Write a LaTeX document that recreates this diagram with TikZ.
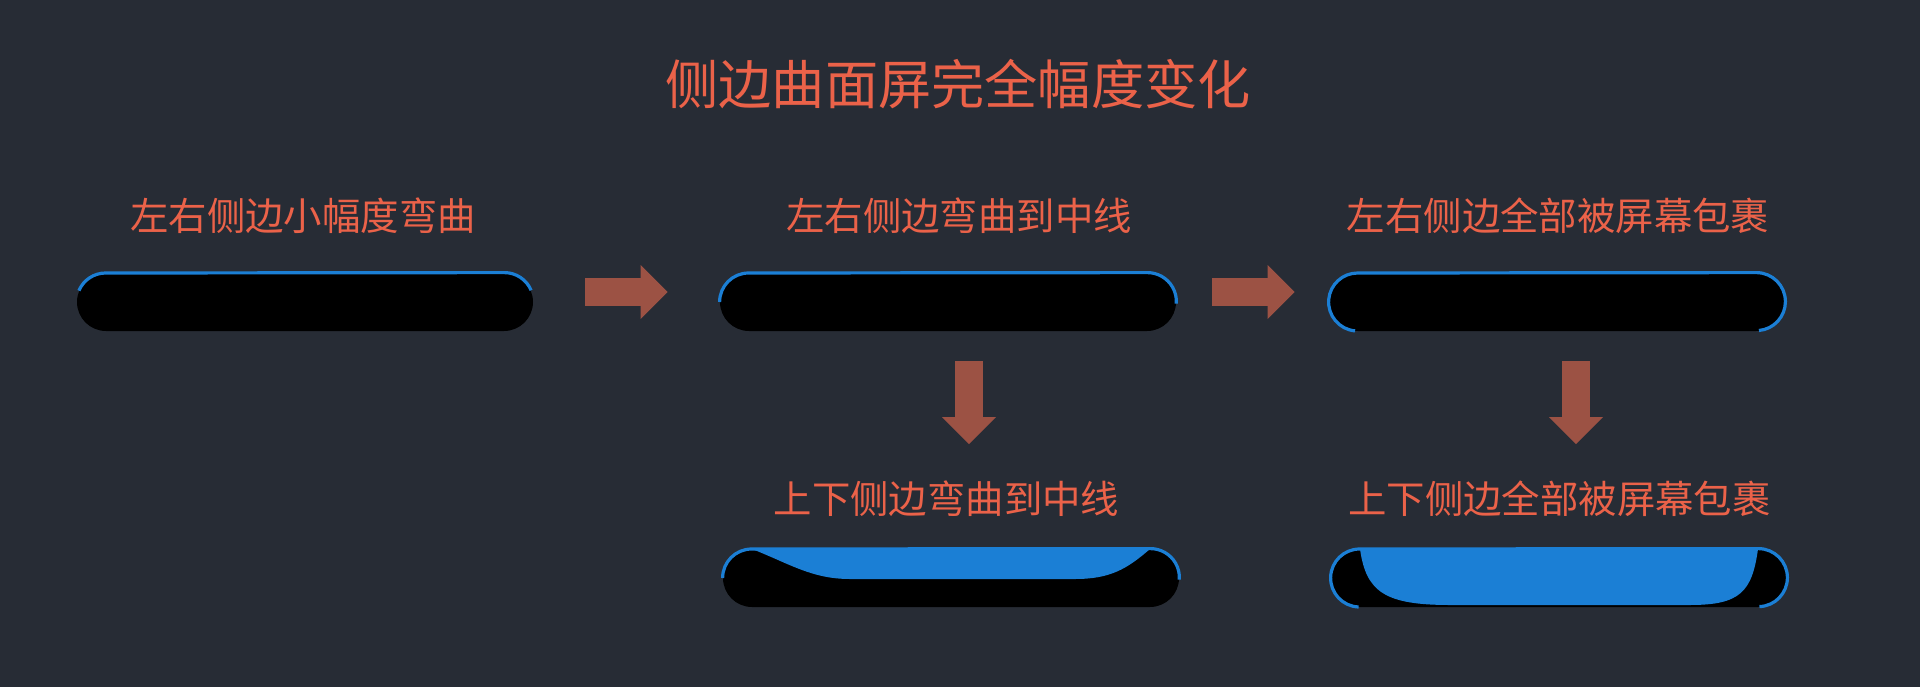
\documentclass[tikz,border=0pt]{standalone}
\usepackage{fontspec}
\newfontfamily\cjk{Noto Sans CJK SC}
\usepackage{tikz}
\usetikzlibrary{arrows.meta}

\definecolor{bgcol}{HTML}{272C35}
\definecolor{txtcol}{HTML}{EB6249}
\definecolor{arrcol}{HTML}{9C5244}
\definecolor{scrcol}{HTML}{1B7FD5}

\tikzset{
  lbl/.style={text=txtcol, inner sep=0pt, font=\cjk\fontsize{19.2}{23}\selectfont},
  phone/.style={fill=black, inner sep=0pt, minimum width=228pt, minimum height=29pt, rounded corners=14.5pt},
  rim/.style={draw=scrcol, line width=1.6pt},
  flow/.style={arrcol, line width=14pt, -{Triangle[length=13.5pt, width=27pt, line width=0pt]}},
}

\begin{document}
\begin{tikzpicture}[x=0.5pt, y=0.5pt]
  \fill[bgcol] (0,0) rectangle (1920,687);

  \node[lbl, font=\cjk\fontsize{26.6}{32}\selectfont] (title) at (958,603) {侧边曲面屏完全幅度变化};
  \node[lbl] (lbl1) at (303,471.5) {左右侧边小幅度弯曲};
  \node[lbl] (lbl2) at (959,471.5) {左右侧边弯曲到中线};
  \node[lbl] (lbl3) at (1558,471.5) {左右侧边全部被屏幕包裹};
  \node[lbl] (lbl4) at (946.5,188.5) {上下侧边弯曲到中线};
  \node[lbl] (lbl5) at (1559.5,188.5) {上下侧边全部被屏幕包裹};

  \node[phone] (bar1) at (305,385) {};
  \node[phone] (bar2) at (948,385) {};
  \node[phone] (bar3) at (1557,385) {};
  \node[phone] (bar4) at (951,109) {};
  \node[phone] (bar5) at (1559,109) {};

  % screen bent over the top and bottom
  \fill[scrcol] (752,138) -- (1150,138) .. controls (1127,118) and (1110,108) .. (1075,108)
    -- (850,108) .. controls (812,108) and (790,123) .. (752,138) -- cycle;
  \fill[scrcol] (1360,138) -- (1758,138) .. controls (1752,95) and (1740,82) .. (1690,82)
    -- (1450,82) .. controls (1385,82) and (1366,95) .. (1360,138) -- cycle;

  % screen bent over the sides
  \draw[rim] ([xshift=14.5pt]bar1.west) ++(157:14.5pt) arc[start angle=157, end angle=90, radius=14.5pt]
    -- ([xshift=-14.5pt]bar1.north east) arc[start angle=90, end angle=23, radius=14.5pt];
  \draw[rim] (bar2.west) arc[start angle=180, end angle=90, radius=14.5pt]
    -- ([xshift=-14.5pt]bar2.north east) arc[start angle=90, end angle=-4, radius=14.5pt];
  \draw[rim] ([xshift=14.5pt]bar3.west) ++(265:14.5pt) arc[start angle=265, end angle=90, radius=14.5pt]
    -- ([xshift=-14.5pt]bar3.north east) arc[start angle=90, end angle=-85, radius=14.5pt];
  \draw[rim] (bar4.west) arc[start angle=180, end angle=90, radius=14.5pt]
    -- ([xshift=-14.5pt]bar4.north east) arc[start angle=90, end angle=-4, radius=14.5pt];
  \draw[rim] ([xshift=14.5pt]bar5.west) ++(268:14.5pt) arc[start angle=268, end angle=90, radius=14.5pt]
    -- ([xshift=-14.5pt]bar5.north east) arc[start angle=90, end angle=-88, radius=14.5pt];

  \draw[flow] ([xshift=26pt, yshift=5pt]bar1.east) -- ([xshift=-26pt, yshift=5pt]bar2.west);
  \draw[flow] ([xshift=18pt, yshift=5pt]bar2.east) -- ([xshift=-17pt, yshift=5pt]bar3.west);
  \draw[flow, shorten >=18pt] ([xshift=10.5pt, yshift=-15pt]bar2.south) -- ([xshift=11.25pt]lbl4.north);
  \draw[flow, shorten >=18pt] ([xshift=9.5pt, yshift=-15pt]bar3.south) -- ([xshift=8.25pt]lbl5.north);
\end{tikzpicture}
\end{document}
